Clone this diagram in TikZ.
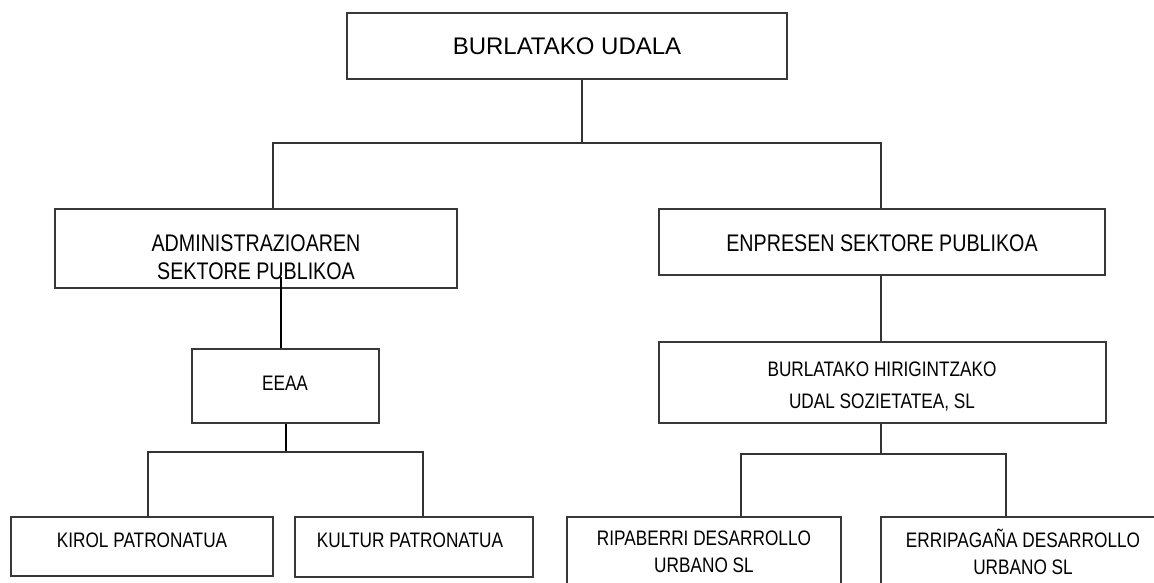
\documentclass[tikz,border=0pt]{standalone}
\usepackage{fontspec}
\setmainfont{Liberation Sans}
\newfontfamily\narrowfont[FakeStretch=0.82]{Liberation Sans}
\begin{document}
\begin{tikzpicture}[x=1pt,y=-1pt,
  box/.style={draw=black!78,line width=1.2pt,inner sep=0pt,rectangle},
  conn/.style={draw=black!80,line width=1.2pt},
  boldconn/.style={draw=black,line width=2pt},
  bigtxt/.style={font=\fontsize{24}{28}\selectfont,inner sep=0pt,align=center},
  midtxt/.style={font=\narrowfont\fontsize{24}{28}\selectfont,inner sep=0pt,align=center},
  smalltxt/.style={font=\narrowfont\fontsize{21}{27}\selectfont,inner sep=0pt,align=center}]
\useasboundingbox (0,0) rectangle (1154,583);
\clip (0,0) rectangle (1154,583);
\fill[white] (0,0) rectangle (1154,583);

% boxes
\node[box,minimum width=440pt,minimum height=66pt] (top) at (567,46) {};
\node[box,minimum width=402pt,minimum height=79pt] (admin) at (256,248.5) {};
\node[box,minimum width=446pt,minimum height=66pt] (enp) at (882,242) {};
\node[box,minimum width=187pt,minimum height=74pt] (eeaa) at (285.5,386) {};
\node[box,minimum width=447pt,minimum height=81pt] (hir) at (882.5,382.5) {};
\node[box,minimum width=262pt,minimum height=59pt] (kirol) at (142,546.5) {};
\node[box,minimum width=238pt,minimum height=60pt] (kultur) at (414,547) {};
\node[box,minimum width=274pt,minimum height=93pt] (rip) at (704,563.5) {};
\node[box,minimum width=284pt,minimum height=93pt] (err) at (1023,563.5) {};

% texts
\node[bigtxt] (topT) at (567,46) {BURLATAKO UDALA};
\node[midtxt] (adminT) at (256,257) {ADMINISTRAZIOAREN\\SEKTORE PUBLIKOA};
\node[midtxt] (enpT) at (882,243) {ENPRESEN SEKTORE PUBLIKOA};
\node[smalltxt] (eeaaT) at (285,383) {EEAA};
\node[smalltxt,font=\narrowfont\fontsize{21}{32}\selectfont] (hirT) at (882,387) {BURLATAKO HIRIGINTZAKO\\UDAL SOZIETATEA, SL};
\node[smalltxt] (kirolT) at (142,540) {KIROL PATRONATUA};
\node[smalltxt] (kulturT) at (410,540) {KULTUR PATRONATUA};
\node[smalltxt] (ripT) at (704,552) {RIPABERRI DESARROLLO\\URBANO SL};
\node[smalltxt] (errT) at (1023,552) {ERRIPAGAÑA DESARROLLO\\URBANO SL};

% junction coordinates
\coordinate (j1) at (582,143);
\coordinate (h1L) at (273,143);
\coordinate (h1R) at (881,143);
\coordinate (a1) at (281,277);
\coordinate (j2) at (286,452);
\coordinate (h2L) at (148,452);
\coordinate (h2R) at (423,452);
\coordinate (j3) at (881,454);
\coordinate (h3L) at (741,454);
\coordinate (h3R) at (1006,454);

% connectors
\draw[conn] (top.south -| j1) -- (j1);
\draw[conn] (admin.north -| h1L) -- (h1L) -- (h1R) -- (enp.north -| h1R);
\draw[boldconn] (a1) -- (a1 |- eeaa.north);
\draw[boldconn] (eeaa.south -| j2) -- (j2);
\draw[conn] (kirol.north -| h2L) -- (h2L) -- (h2R) -- (kultur.north -| h2R);
\draw[conn] (enp.south -| j3) -- (hir.north -| j3);
\draw[conn] (hir.south -| j3) -- (j3);
\draw[conn] (rip.north -| h3L) -- (h3L) -- (h3R) -- (err.north -| h3R);
\end{tikzpicture}
\end{document}
